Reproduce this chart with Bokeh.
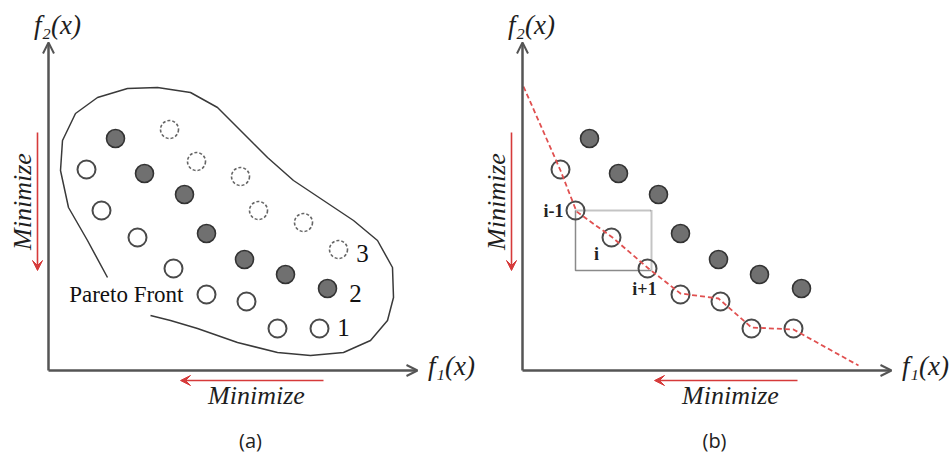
import numpy as np
from bokeh.plotting import figure
from bokeh.models import Range1d, Arrow, OpenHead, VeeHead
from bokeh.layouts import row
from bokeh.core.properties import value
from bokeh.embed import file_html
from bokeh.resources import INLINE

# ---------------- data (objective space, arbitrary units; origin at axis crossing) -------------
# rank-1 solutions (Pareto front)
f1_rank1 = [38, 53, 89, 125, 158, 198, 229, 271]
f2_rank1 = [201, 160, 133, 102, 76, 69, 42, 42]
# rank-2 solutions
f1_rank2 = [67, 96, 136, 158, 196, 237, 279]
f2_rank2 = [232, 197, 176, 137, 111, 96, 82]
# rank-3 solutions
f1_rank3 = [121, 148, 192, 210, 255, 290]
f2_rank3 = [241, 209, 194, 160, 148, 121]
rank_labels = ["1", "2", "3"]
# outline of the population region in panel (a)
blob_f1 = [59, 39, 20, 12, 14, 27, 49, 79, 109, 142, 169, 192, 219, 245, 275, 305, 329,
           344, 345, 339, 322, 295, 262, 229, 189, 149, 122, 102]
blob_f2 = [93, 130, 163, 200, 230, 257, 273, 282, 283, 278, 263, 240, 213, 190, 170, 150, 130,
           103, 73, 50, 30, 18, 15, 18, 28, 42, 50, 55]
# dashed front curve in panel (b)
front_f1 = [1, 38, 54, 90, 126, 158, 196, 229, 271, 336]
front_f2 = [284, 200, 159, 133, 102, 77, 72, 43, 41, 5]
crowd_labels = ["i-1", "i", "i+1"]
axis_len = 328
captions = ["(a)", "(b)"]

SERIF = value("Liberation Serif")
AX = "#555555"
RED = "#d63a3a"
H = 454


def make_fig(width, x0):
    p = figure(width=width, height=H, x_range=Range1d(x0, x0 + width), y_range=Range1d(-84, 370),
               output_backend="svg", toolbar_location=None, min_border=0,
               x_axis_location=None, y_axis_location=None)
    p.grid.visible = False
    p.outline_line_color = None
    p.background_fill_color = "white"
    return p


def decorate(p, caption_x, caption):
    # axes with open arrow heads
    p.add_layout(Arrow(end=OpenHead(size=11, line_width=2, line_color=AX), x_start=0, y_start=0,
                       x_end=0, y_end=axis_len, line_width=2.5, line_color=AX))
    p.add_layout(Arrow(end=OpenHead(size=11, line_width=2, line_color=AX), x_start=0, y_start=0,
                       x_end=axis_len + 41, y_end=0, line_width=2.5, line_color=AX))
    # red "minimize" arrows
    p.add_layout(Arrow(end=VeeHead(size=10, fill_color=RED, line_color=RED), x_start=-11, y_start=238,
                       x_end=-11, y_end=100, line_width=1.6, line_color=RED))
    p.add_layout(Arrow(end=VeeHead(size=10, fill_color=RED, line_color=RED), x_start=275, y_start=-10,
                       x_end=132, y_end=-10, line_width=1.6, line_color=RED))
    p.text(x=[-26], y=[169], text=["Minimize"], angle=np.pi / 2, text_font=SERIF,
           text_font_style="italic", text_font_size="26px", text_color="#1e1e1e",
           text_align="center", text_baseline="middle")
    p.text(x=[208], y=[-25], text=["Minimize"], text_font=SERIF,
           text_font_style="italic", text_font_size="26px", text_color="#1e1e1e",
           text_align="center", text_baseline="middle")
    p.text(x=[9], y=[346], text=["f\u2082(x)"], text_font=SERIF, text_font_style="italic",
           text_font_size="27px", text_color="#1e1e1e", text_align="center", text_baseline="middle")
    p.text(x=[403], y=[5], text=["f\u2081(x)"], text_font=SERIF, text_font_style="italic",
           text_font_size="27px", text_color="#1e1e1e", text_align="center", text_baseline="middle")
    p.text(x=[caption_x], y=[-70], text=[caption], text_font=value("Open Sans"),
           text_font_size="20px", text_color="#222222", text_align="center", text_baseline="middle")


# ---------------- panel (a) ----------------
pa = make_fig(481, -48)
decorate(pa, 202, captions[0])
pa.line(blob_f1, blob_f2, line_color="#3a3a3a", line_width=1.5, line_join="round")
pa.scatter(f1_rank3, f2_rank3, size=18, fill_color="white", line_color="#666666",
           line_width=1.6, line_dash="3 2")
pa.scatter(f1_rank2, f2_rank2, size=18, fill_color="#707070", line_color="#333333", line_width=1.6)
pa.scatter(f1_rank1, f2_rank1, size=18, fill_color="white", line_color="#4a4a4a", line_width=2)
pa.text(x=[f1_rank1[-1] + 24, f1_rank2[-1] + 28, f1_rank3[-1] + 24],
        y=[f2_rank1[-1] + 1, f2_rank2[-1] - 5, f2_rank3[-1] - 4],
        text=rank_labels, text_font=SERIF, text_font_size="25px", text_color="#111111",
        text_align="center", text_baseline="middle")
pa.text(x=[f1_rank1[4] - 23], y=[f2_rank1[4]], text=["Pareto Front"], text_font=SERIF,
        text_font_size="23px", text_color="#111111", text_align="right", text_baseline="middle")

# ---------------- panel (b) ----------------
pb = make_fig(469, -41)
decorate(pb, 192, captions[1])
# cuboid around solution i
bx0, bx1 = f1_rank1[1], f1_rank1[3] + 4
by0, by1 = f2_rank1[3] - 2, f2_rank1[1]
pb.line([bx0, bx0, bx1], [by1, by0, by0], line_color="#8a8a8a", line_width=1.5)
pb.line([bx0, bx1, bx1], [by1, by1, by0], line_color="#8a8a8a", line_width=2, line_dash="1 1")
pb.scatter(f1_rank2, f2_rank2, size=18, fill_color="#707070", line_color="#333333", line_width=1.6)
pb.scatter(f1_rank1, f2_rank1, size=18, fill_color=None, line_color="#4a4a4a", line_width=2)
pb.line(front_f1, front_f2, line_color="#e05050", line_width=1.8, line_dash="5 3")
pb.text(x=[f1_rank1[1] - 12], y=[f2_rank1[1]], text=[crowd_labels[0]], text_font=SERIF,
        text_font_style="bold", text_font_size="18px", text_color="#222222",
        text_align="right", text_baseline="middle")
pb.text(x=[f1_rank1[2] - 15], y=[f2_rank1[2] - 16], text=[crowd_labels[1]], text_font=SERIF,
        text_font_style="bold", text_font_size="18px", text_color="#222222",
        text_align="center", text_baseline="middle")
pb.text(x=[f1_rank1[3] - 3], y=[f2_rank1[3] - 20], text=[crowd_labels[2]], text_font=SERIF,
        text_font_style="bold", text_font_size="18px", text_color="#222222",
        text_align="center", text_baseline="middle")

layout = row(pa, pb, spacing=0)
open("out.html", "w").write(file_html(layout, INLINE))
